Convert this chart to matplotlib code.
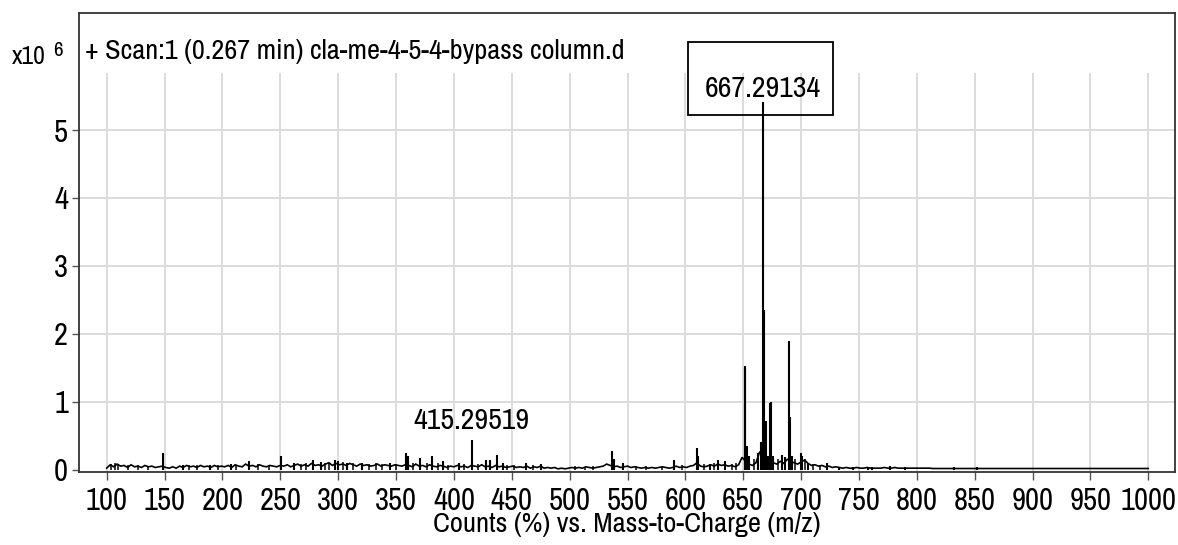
import numpy as np
import matplotlib
matplotlib.use("Agg")
import matplotlib.pyplot as plt
from matplotlib.patches import Rectangle
import matplotlib.transforms as mtransforms

plt.rcParams['font.family'] = ['Archivo Narrow', 'Roboto Condensed', 'Liberation Sans', 'DejaVu Sans']

# ---- spectrum data (intensities in units of 10^6 counts) ----
# noise floor sampled every 3 m/z from 100 to 862
baseline_mz = np.arange(100, 863, 3)
baseline_counts = [
    0.02, 0.07, 0.04, 0.08, 0.05, 0.06, 0.03, 0.07, 0.04, 0.05, 0.03, 0.06, 0.04, 0.05, 0.03, 0.04, 0.05,
    0.03, 0.02, 0.04, 0.02, 0.05, 0.03, 0.06, 0.04, 0.05, 0.03, 0.06, 0.04, 0.05, 0.03, 0.06, 0.04, 0.05,
    0.04, 0.06, 0.03, 0.07, 0.05, 0.04, 0.08, 0.05, 0.06, 0.04, 0.07, 0.05, 0.04, 0.06, 0.05, 0.04, 0.06,
    0.05, 0.07, 0.04, 0.06, 0.08, 0.05, 0.07, 0.05, 0.09, 0.06, 0.07, 0.05, 0.08, 0.10, 0.06, 0.09, 0.07,
    0.08, 0.06, 0.09, 0.07, 0.05, 0.08, 0.06, 0.07, 0.05, 0.06, 0.08, 0.05, 0.07, 0.06, 0.05, 0.07, 0.06,
    0.05, 0.07, 0.06, 0.04, 0.08, 0.05, 0.06, 0.04, 0.07, 0.05, 0.04, 0.06, 0.05, 0.03, 0.05, 0.04, 0.06,
    0.04, 0.05, 0.03, 0.06, 0.05, 0.04, 0.07, 0.04, 0.05, 0.03, 0.06, 0.04, 0.05, 0.03, 0.04, 0.05, 0.03,
    0.04, 0.03, 0.05, 0.02, 0.04, 0.03, 0.05, 0.02, 0.03, 0.02, 0.03, 0.01, 0.02, 0.01, 0.02, 0.03, 0.02,
    0.03, 0.02, 0.04, 0.03, 0.02, 0.03, 0.04, 0.05, 0.08, 0.06, 0.04, 0.05, 0.03, 0.04, 0.05, 0.03, 0.04,
    0.03, 0.02, 0.03, 0.02, 0.03, 0.02, 0.03, 0.04, 0.03, 0.02, 0.03, 0.05, 0.03, 0.04, 0.03, 0.05, 0.06,
    0.10, 0.05, 0.04, 0.05, 0.07, 0.05, 0.08, 0.06, 0.07, 0.05, 0.06, 0.04, 0.07, 0.18, 0.12, 0.08, 0.06,
    0.10, 0.25, 0.30, 0.12, 0.15, 0.10, 0.08, 0.12, 0.09, 0.15, 0.12, 0.10, 0.08, 0.11, 0.14, 0.09, 0.06,
    0.07, 0.05, 0.06, 0.04, 0.05, 0.03, 0.04, 0.03, 0.02, 0.03, 0.02, 0.02, 0.03, 0.02, 0.02, 0.03, 0.02,
    0.02, 0.02, 0.02, 0.03, 0.02, 0.02, 0.03, 0.02, 0.02, 0.02, 0.02, 0.02, 0.02, 0.02, 0.02, 0.02, 0.02,
    0.015, 0.015, 0.015, 0.015, 0.015, 0.015, 0.015, 0.015, 0.015, 0.015, 0.015, 0.015, 0.015, 0.015, 0.015, 0.015, 0.015,
]
tail_mz = [865, 1000]
tail_counts = [0.015, 0.015]

# centroid peaks rising above the noise floor
peak_mz = [
    149.0, 166.0, 189.0, 207.0, 223.0, 251.0, 262.0, 278.0, 285.0, 297.0, 300.0, 308.0, 321.0, 345.0,
    358.7, 360.0, 371.0, 381.0, 391.0, 404.0, 415.29519, 428.0, 431.0, 437.0, 442.0, 462.0, 475.0,
    537.0, 538.0, 546.0, 590.0, 609.8, 611.0, 621.0, 628.5, 634.0,
    651.3, 651.8, 653.0, 655.0, 663.0, 665.0, 666.0, 667.29134, 668.3, 669.3, 671.0, 673.3, 674.3,
    676.0, 683.5, 686.0, 689.3, 690.3, 692.0, 700.3, 701.0, 706.0, 722.0,
    733.0, 745.0, 758.0, 761.0, 777.0, 790.0, 832.0, 852.0,
]
peak_counts = [
    0.25, 0.07, 0.07, 0.08, 0.13, 0.20, 0.09, 0.14, 0.11, 0.14, 0.12, 0.10, 0.09, 0.09,
    0.24, 0.20, 0.17, 0.20, 0.12, 0.09, 0.43, 0.14, 0.14, 0.22, 0.10, 0.10, 0.08,
    0.27, 0.15, 0.10, 0.14, 0.31, 0.20, 0.08, 0.14, 0.12,
    1.52, 1.50, 0.35, 0.20, 0.25, 0.41, 0.30, 5.42, 2.35, 0.72, 0.20, 0.98, 1.00,
    0.20, 0.21, 0.18, 1.89, 0.77, 0.20, 0.25, 0.20, 0.10, 0.10,
    0.03, 0.03, 0.04, 0.04, 0.05, 0.04, 0.03, 0.04,
]

# small spikes scattered through the noise
spike_mz = [
    104, 107, 110, 118, 127, 136, 171, 178, 196, 212, 231, 240, 268, 272, 289, 292,
    304, 313, 327, 333, 338, 350, 365, 377, 386, 395, 409, 421, 446, 452, 468,
    505, 513, 520, 557, 566, 580, 597, 616, 625, 640, 644, 659, 680, 695, 703, 710, 716,
]
spike_counts = [
    0.08, 0.09, 0.08, 0.06, 0.06, 0.05, 0.06, 0.06, 0.06, 0.07, 0.08, 0.07, 0.08, 0.10, 0.09, 0.10,
    0.11, 0.09, 0.08, 0.09, 0.08, 0.08, 0.09, 0.10, 0.09, 0.07, 0.08, 0.08, 0.07, 0.06, 0.06,
    0.05, 0.04, 0.05, 0.05, 0.05, 0.04, 0.06, 0.08, 0.09, 0.08, 0.10, 0.15, 0.15, 0.15, 0.15, 0.08, 0.06,
]

x_ticks = list(range(100, 1001, 50))
y_ticks = [0, 1, 2, 3, 4, 5]

title_text = "+ Scan:1 (0.267 min) cla-me-4-5-4-bypass column.d"
x_label = "Counts (%) vs. Mass-to-Charge (m/z)"
base_peak_label = "667.29134"
minor_peak_label = "415.29519"

# ---- figure ----
fig = plt.figure(figsize=(11.78, 5.45), dpi=100)
ax = fig.add_axes([0.06732, 0.13450, 0.93014, 0.84110])
ax.set_xlim(76.32, 1023.08)
ax.set_ylim(-0.032, 6.719)

grid_color = "#dcdcdc"
# vertical grid stops below the title line
vtrans = mtransforms.blended_transform_factory(ax.transData, ax.transAxes)
ax.vlines(x_ticks, 0, 0.8698, transform=vtrans, color=grid_color, lw=1.4, zorder=0)
for yv in y_ticks[1:]:
    ax.axhline(yv, color=grid_color, lw=1.4, zorder=0)

# profile noise floor and centroid sticks
ax.plot(list(baseline_mz) + tail_mz, baseline_counts + tail_counts,
        color="black", lw=1.2, zorder=2, solid_joinstyle="miter")
ax.vlines(spike_mz, 0.0, spike_counts, color="black", lw=1.1, zorder=3)
ax.vlines(peak_mz, 0.0, peak_counts, color="black", lw=1.5, zorder=3)

for s in ax.spines.values():
    s.set_color("#333333")
    s.set_linewidth(1.3)

ax.set_xticks(x_ticks)
ax.set_xticklabels([str(v) for v in x_ticks])
ax.set_yticks(y_ticks)
ax.set_yticklabels([str(v) for v in y_ticks])
ax.tick_params(axis="x", direction="out", length=6, width=1.0, color="#555555",
               labelsize=22, pad=5)
ax.tick_params(axis="y", direction="out", length=5, width=1.0, color="#555555",
               labelsize=22, pad=3)
ax.set_xlabel(x_label, fontsize=20.5, labelpad=-2)

# scan title inside the frame
ax.text(0.0052, 0.9156, title_text, transform=ax.transAxes, fontsize=20.4,
        ha="left", va="center")

# exponent marker beside the y axis
fig.text(12.0 / 1178, 1 - 63.5 / 545, "x10", fontsize=18.5, ha="left", va="baseline")
fig.text(53.0 / 1178, 1 - 56.5 / 545, "6", fontsize=15, ha="left", va="baseline")

# base peak label in a box
bp = peak_mz[peak_counts.index(max(peak_counts))]
ax.add_patch(Rectangle((bp - 64.8, 0.778), 125.3, 0.1587, transform=vtrans,
                       fill=False, edgecolor="black", lw=1.3, zorder=1))
ax.text(bp, 0.8364, base_peak_label, transform=vtrans, fontsize=21.5,
        ha="center", va="center", zorder=2)

# minor labelled peak
mi = peak_mz.index(415.29519)
ax.annotate(minor_peak_label, xy=(peak_mz[mi], peak_counts[mi]),
            xytext=(0, 14), textcoords="offset points",
            ha="center", va="center", fontsize=21.5)

fig.savefig("out.png", dpi=100)
